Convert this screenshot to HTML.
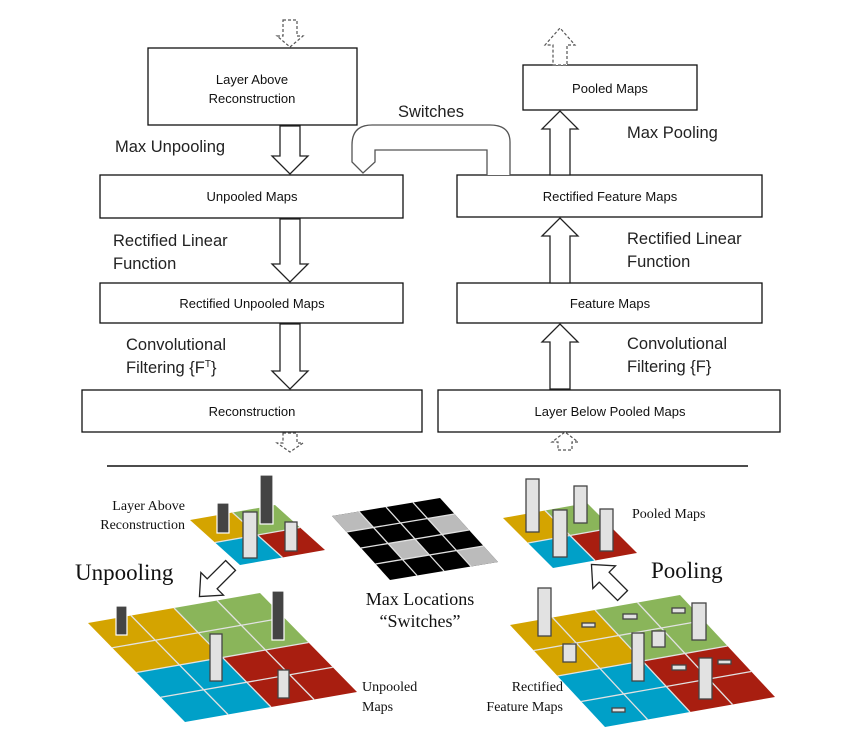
<!DOCTYPE html>
<html><head><meta charset="utf-8"><style>
html,body{margin:0;padding:0;background:#fff}
svg{display:block}
.bx{fill:#fff;stroke:#111;stroke-width:1.3}
.bt{font-family:"Liberation Sans",sans-serif;font-size:13px;fill:#111;text-anchor:middle}
.lb{font-family:"Liberation Sans",sans-serif;font-size:16.5px;fill:#222}
.ar{fill:#fff;stroke:#222;stroke-width:1.3}
.da{fill:#fff;stroke:#555;stroke-width:1.2;stroke-dasharray:3,2}
.sf{font-family:"Liberation Serif",serif;fill:#111}
.gl{stroke:#e2e2e2;stroke-width:1.3;vector-effect:non-scaling-stroke}
.dk{fill:#444;stroke:#fff;stroke-width:1.2}
.lt{fill:#e2e2e2;stroke:#444;stroke-width:1.3}
</style></head><body>
<svg width="856" height="752" viewBox="0 0 856 752" xmlns="http://www.w3.org/2000/svg">
<!-- boxes -->
<rect class="bx" x="148" y="48" width="209" height="77"/>
<text class="bt" x="252" y="84">Layer Above</text><text class="bt" x="252" y="103">Reconstruction</text>
<rect class="bx" x="100" y="175" width="303" height="43"/><text class="bt" x="252" y="201">Unpooled Maps</text>
<rect class="bx" x="100" y="283" width="303" height="40"/><text class="bt" x="252" y="308">Rectified Unpooled Maps</text>
<rect class="bx" x="82" y="390" width="340" height="42"/><text class="bt" x="252" y="416">Reconstruction</text>
<rect class="bx" x="523" y="65" width="174" height="45"/><text class="bt" x="610" y="93">Pooled Maps</text>
<rect class="bx" x="457" y="175" width="305" height="42"/><text class="bt" x="610" y="201">Rectified Feature Maps</text>
<rect class="bx" x="457" y="283" width="305" height="40"/><text class="bt" x="610" y="308">Feature Maps</text>
<rect class="bx" x="438" y="390" width="342" height="42"/><text class="bt" x="610" y="416">Layer Below Pooled Maps</text>
<!-- arrows -->
<polygon class="ar" points="280,126 300,126 300,156 308,156 290,174 272,156 280,156"/>
<polygon class="ar" points="280,219 300,219 300,264 308,264 290,282 272,264 280,264"/>
<polygon class="ar" points="280,324 300,324 300,371 308,371 290,389 272,371 280,371"/>
<polygon class="ar" points="550,175 570,175 570,129 578,129 560,111 542,129 550,129"/>
<polygon class="ar" points="550,283 570,283 570,236 578,236 560,218 542,236 550,236"/>
<polygon class="ar" points="550,389 570,389 570,342 578,342 560,324 542,342 550,342"/>
<polygon class="da" points="283,20 297,20 297,36 303,36 290,47 277,36 283,36"/>
<polygon class="da" points="283,433 297,433 297,443 303,443 290,452 277,443 283,443"/>
<polygon class="da" points="553,65 567,65 567,45 575,45 560,28 545,45 553,45"/>
<polygon class="da" points="558,450 572,450 572,442 578,442 565,432 552,442 558,442"/>
<!-- switches connector -->
<path d="M510,175 L510,142 Q510,125 490,125 L372,125 Q352,125 352,145 L352,162 L363,173 L375,162 L375,150 L487,150 L487,175" fill="#fff" stroke="#555" stroke-width="1.3"/>
<text class="lb" x="398" y="117">Switches</text>
<!-- labels -->
<text class="lb" x="115" y="152">Max Unpooling</text>
<text class="lb" x="113" y="246">Rectified Linear</text><text class="lb" x="113" y="269">Function</text>
<text class="lb" x="126" y="350">Convolutional</text><text class="lb" x="126" y="373">Filtering {F<tspan font-size="10" dy="-6">T</tspan><tspan dy="6">}</tspan></text>
<text class="lb" x="627" y="138">Max Pooling</text>
<text class="lb" x="627" y="244">Rectified Linear</text><text class="lb" x="627" y="267">Function</text>
<text class="lb" x="627" y="349">Convolutional</text><text class="lb" x="627" y="372">Filtering {F}</text>
<line x1="107" y1="466" x2="748" y2="466" stroke="#111" stroke-width="1.5"/>

<!-- grids -->
<g transform="matrix(42.5,-7.5,25,22.5,190,520)">
<rect x="0" y="0" width="1" height="1" fill="#d4a400"/><rect x="1" y="0" width="1" height="1" fill="#8ab55a"/>
<rect x="0" y="1" width="1" height="1" fill="#00a0c8"/><rect x="1" y="1" width="1" height="1" fill="#a81e10"/>
<line class="gl" x1="1" y1="0" x2="1" y2="2"/><line class="gl" x1="0" y1="1" x2="2" y2="1"/>
</g>
<g transform="matrix(43,-7.5,24.25,24.75,88,623)">
<rect x="0" y="0" width="2" height="2" fill="#d4a400"/><rect x="2" y="0" width="2" height="2" fill="#8ab55a"/>
<rect x="0" y="2" width="2" height="2" fill="#00a0c8"/><rect x="2" y="2" width="2" height="2" fill="#a81e10"/>
<line class="gl" x1="1" y1="0" x2="1" y2="4"/><line class="gl" x1="2" y1="0" x2="2" y2="4"/><line class="gl" x1="3" y1="0" x2="3" y2="4"/>
<line class="gl" x1="0" y1="1" x2="4" y2="1"/><line class="gl" x1="0" y1="2" x2="4" y2="2"/><line class="gl" x1="0" y1="3" x2="4" y2="3"/>
</g>
<g transform="matrix(27,-4.5,14.5,16,332,516)">
<rect x="0" y="0" width="4" height="4" fill="#000"/>
<rect x="0" y="0" width="1" height="1" fill="#bbb"/><rect x="3" y="1" width="1" height="1" fill="#bbb"/>
<rect x="1" y="2" width="1" height="1" fill="#bbb"/><rect x="3" y="3" width="1" height="1" fill="#bbb"/>
<line class="gl" x1="1" y1="0" x2="1" y2="4"/><line class="gl" x1="2" y1="0" x2="2" y2="4"/><line class="gl" x1="3" y1="0" x2="3" y2="4"/>
<line class="gl" x1="0" y1="1" x2="4" y2="1"/><line class="gl" x1="0" y1="2" x2="4" y2="2"/><line class="gl" x1="0" y1="3" x2="4" y2="3"/>
</g>
<g transform="matrix(42,-7.5,25,25,503,518)">
<rect x="0" y="0" width="1" height="1" fill="#d4a400"/><rect x="1" y="0" width="1" height="1" fill="#8ab55a"/>
<rect x="0" y="1" width="1" height="1" fill="#00a0c8"/><rect x="1" y="1" width="1" height="1" fill="#a81e10"/>
<line class="gl" x1="1" y1="0" x2="1" y2="2"/><line class="gl" x1="0" y1="1" x2="2" y2="1"/>
</g>
<g transform="matrix(42.5,-7.5,23.75,25.5,510,625)">
<rect x="0" y="0" width="2" height="2" fill="#d4a400"/><rect x="2" y="0" width="2" height="2" fill="#8ab55a"/>
<rect x="0" y="2" width="2" height="2" fill="#00a0c8"/><rect x="2" y="2" width="2" height="2" fill="#a81e10"/>
<line class="gl" x1="1" y1="0" x2="1" y2="4"/><line class="gl" x1="2" y1="0" x2="2" y2="4"/><line class="gl" x1="3" y1="0" x2="3" y2="4"/>
<line class="gl" x1="0" y1="1" x2="4" y2="1"/><line class="gl" x1="0" y1="2" x2="4" y2="2"/><line class="gl" x1="0" y1="3" x2="4" y2="3"/>
</g>
<!-- bars left small -->
<rect class="dk" x="217" y="503" width="12" height="30"/>
<rect class="dk" x="260" y="475" width="13" height="49"/>
<rect class="lt" x="243" y="512" width="14" height="46"/>
<rect class="lt" x="285" y="522" width="12" height="29"/>
<!-- bars big left -->
<rect class="dk" x="116" y="606" width="11" height="29"/>
<rect class="dk" x="272" y="591" width="12" height="49"/>
<rect class="lt" x="210" y="634" width="12" height="47"/>
<rect class="lt" x="278" y="670" width="11" height="28"/>
<!-- bars pooled -->
<rect class="lt" x="526" y="479" width="13" height="53"/>
<rect class="lt" x="574" y="486" width="13" height="37"/>
<rect class="lt" x="553" y="510" width="14" height="47"/>
<rect class="lt" x="600" y="509" width="13" height="42"/>
<!-- bars big right -->
<rect class="lt" x="538" y="588" width="13" height="48"/>
<rect class="lt" x="582" y="623" width="13" height="4"/>
<rect class="lt" x="623" y="614" width="14" height="5"/>
<rect class="lt" x="672" y="608" width="13" height="5"/>
<rect class="lt" x="692" y="603" width="14" height="37"/>
<rect class="lt" x="652" y="631" width="13" height="16"/>
<rect class="lt" x="563" y="644" width="13" height="18"/>
<rect class="lt" x="632" y="633" width="12" height="48"/>
<rect class="lt" x="672" y="665" width="14" height="5"/>
<rect class="lt" x="718" y="660" width="13" height="4"/>
<rect class="lt" x="699" y="658" width="13" height="41"/>
<rect class="lt" x="612" y="708" width="13" height="4"/>
<!-- hollow arrows -->
<polygon class="ar" transform="translate(215,581) rotate(45)" points="-7,-22 7,-22 7,4 16,4 0,22 -16,4 -7,4"/>
<polygon class="ar" transform="translate(607,580) rotate(135)" points="-7,-22 7,-22 7,4 16,4 0,22 -16,4 -7,4"/>
<!-- serif labels -->
<text class="sf" x="185" y="510" font-size="14" text-anchor="end">Layer Above</text>
<text class="sf" x="185" y="529" font-size="14" text-anchor="end">Reconstruction</text>
<text class="sf" x="75" y="580" font-size="23">Unpooling</text>
<text class="sf" x="420" y="605" font-size="18" text-anchor="middle">Max Locations</text>
<text class="sf" x="420" y="627" font-size="18" text-anchor="middle">“Switches”</text>
<text class="sf" x="632" y="518" font-size="14">Pooled Maps</text>
<text class="sf" x="651" y="578" font-size="23">Pooling</text>
<text class="sf" x="362" y="691" font-size="14">Unpooled</text>
<text class="sf" x="362" y="711" font-size="14">Maps</text>
<text class="sf" x="563" y="691" font-size="14" text-anchor="end">Rectified</text>
<text class="sf" x="563" y="711" font-size="14" text-anchor="end">Feature Maps</text>
</svg>
</body></html>
